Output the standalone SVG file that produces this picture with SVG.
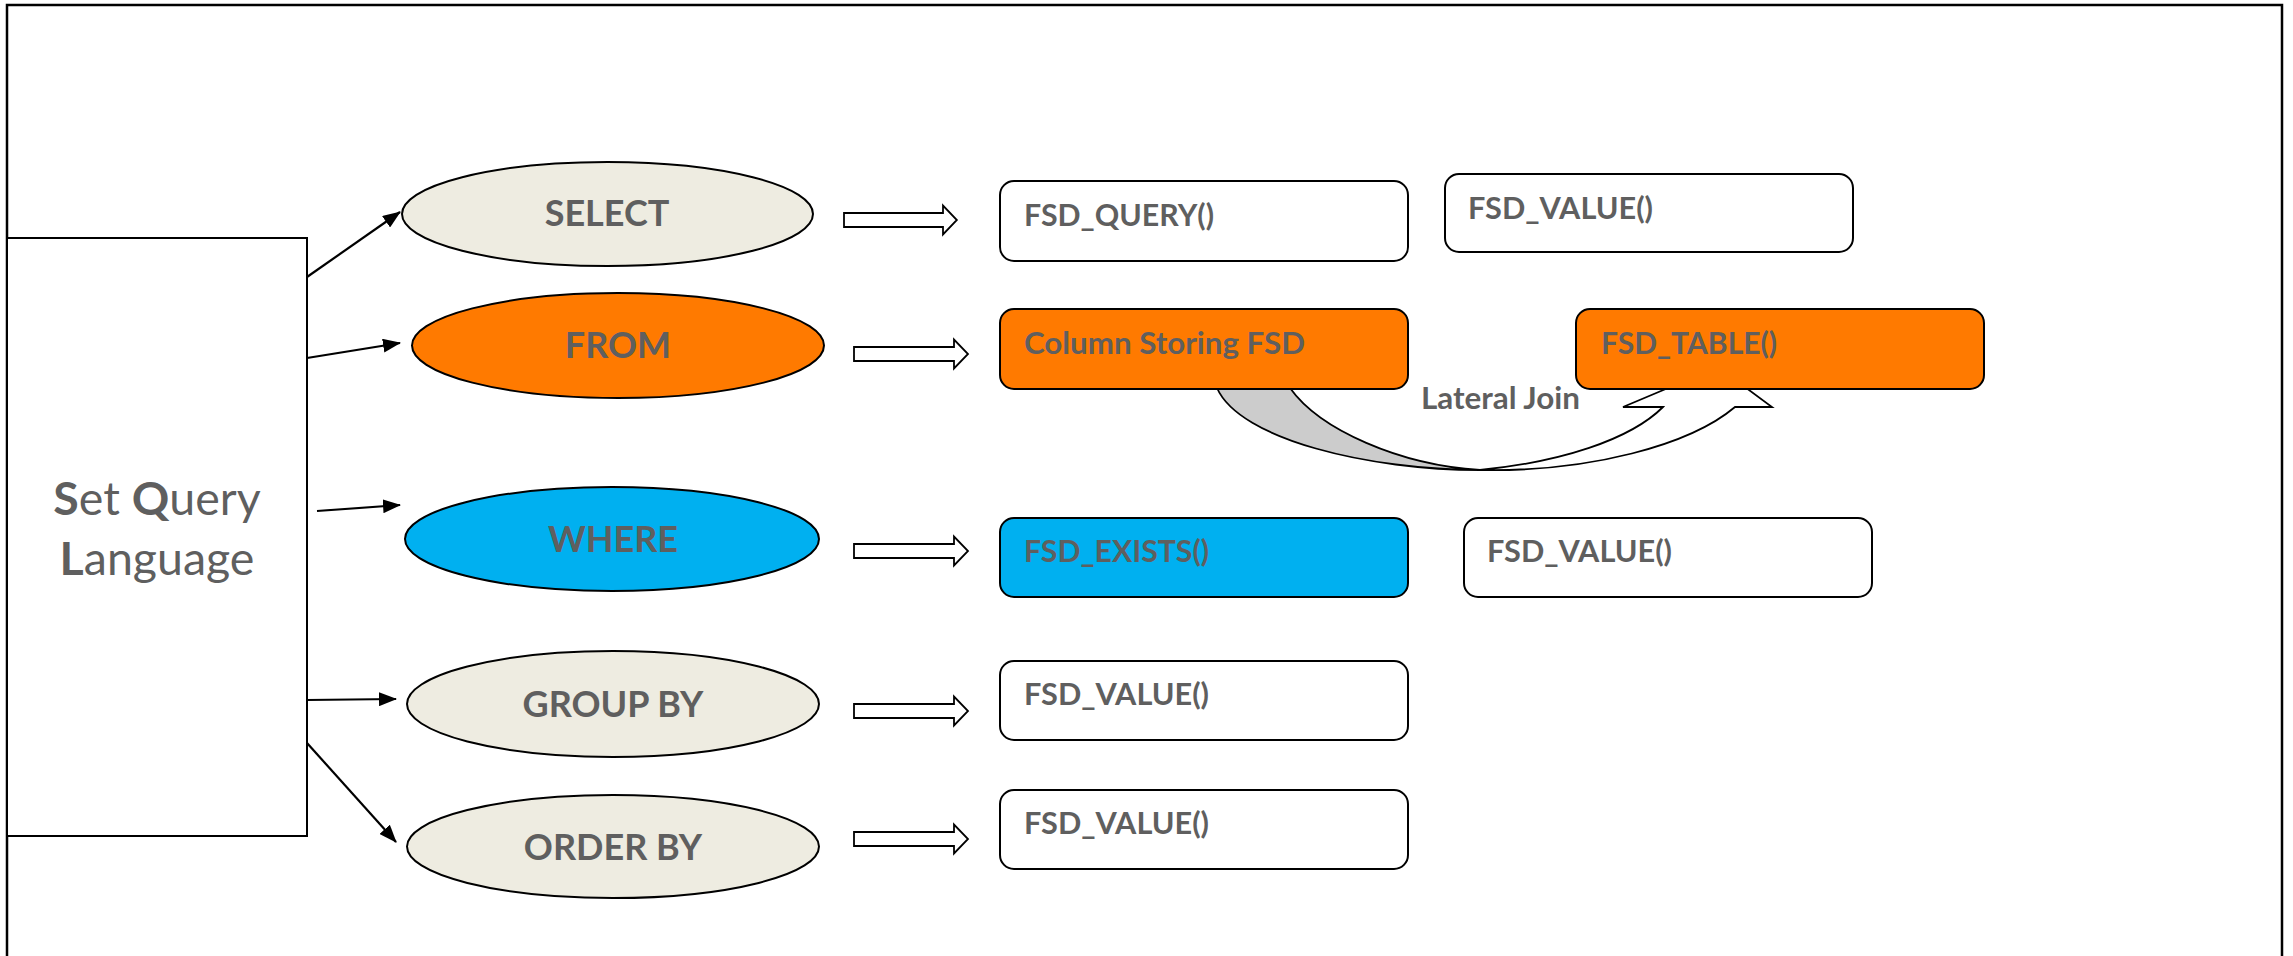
<svg xmlns="http://www.w3.org/2000/svg" width="2293" height="956" viewBox="0 0 2293 956">
  <style>
    .frame { fill: none; stroke: #000; stroke-width: 2.5; }
    .t { font-family: Lato, "Open Sans", "Liberation Sans", sans-serif; fill: #5f5f5f; font-weight: 700; }
    .kw { font-size: 36px; text-anchor: middle; }
    .fn { font-size: 30px; }
    .box { stroke: #000; stroke-width: 2; }
    .ell { stroke: #000; stroke-width: 2; }
    .conn { stroke: #000; stroke-width: 2.2; fill: none; }
    .blk { fill: #fff; stroke: #000; stroke-width: 1.8; }
    .band { stroke: #000; stroke-width: 1.8; stroke-linejoin: miter; }
    .white { fill: #fff; }
    .tan { fill: #eeece1; }
    .orange { fill: #ff7a00; }
    .blue { fill: #00b0f0; }
  </style>
  <defs>
    <marker id="ah" markerUnits="userSpaceOnUse" markerWidth="18" markerHeight="14" refX="17" refY="7" orient="auto">
      <path d="M0,0 L18,7 L0,14 Z" fill="#000"/>
    </marker>
    <path id="blockArrow" d="M0,-7 H100 V-14.5 L114,0 L100,14.5 V7 H0 Z"/>
  </defs>

  <rect x="0" y="0" width="2293" height="956" fill="#fff"/>
  <!-- outer frame, open at the bottom -->
  <path class="frame" d="M7,960 V5 H2282 V960"/>

  <!-- connectors -->
  <g id="connectors">
    <line class="conn" x1="307" y1="277" x2="400" y2="212" marker-end="url(#ah)"/>
    <line class="conn" x1="307" y1="358" x2="400" y2="343" marker-end="url(#ah)"/>
    <line class="conn" x1="317" y1="511" x2="400" y2="505" marker-end="url(#ah)"/>
    <line class="conn" x1="307" y1="700" x2="396" y2="699" marker-end="url(#ah)"/>
    <line class="conn" x1="307" y1="743" x2="396" y2="842" marker-end="url(#ah)"/>

    <use href="#blockArrow" class="blk" transform="translate(844,220) scale(0.99,1)"/>
    <use href="#blockArrow" class="blk" transform="translate(854,354)"/>
    <use href="#blockArrow" class="blk" transform="translate(854,551)"/>
    <use href="#blockArrow" class="blk" transform="translate(854,711)"/>
    <use href="#blockArrow" class="blk" transform="translate(854,839)"/>

    <!-- curved lateral join arrow -->
    <g id="lateral-join">
      <path class="band" fill="#cccccc" d="M1210,370 L1217,388 C1240,440 1370,470 1480,470 C1400,465 1320,430 1290,388 L1282,370 Z"/>
      <path class="band" fill="#fff" d="M1480,470 C1590,472 1690,445 1735,407 L1772,407 L1718,367 L1623,407 L1663,407 C1630,440 1560,462 1480,470 Z"/>
      <text class="t fn" x="1421" y="409" textLength="159" lengthAdjust="spacingAndGlyphs">Lateral Join</text>
    </g>
  </g>

  <!-- source box -->
  <g id="sql">
    <rect class="box white" x="7" y="238" width="300" height="598"/>
    <text class="t" x="157" y="515" font-size="46.5" text-anchor="middle"><tspan font-weight="700">S</tspan><tspan font-weight="400">et </tspan><tspan font-weight="700">Q</tspan><tspan font-weight="400">uery</tspan></text>
    <text class="t" x="157" y="575" font-size="46.5" text-anchor="middle"><tspan font-weight="700">L</tspan><tspan font-weight="400">anguage</tspan></text>
  </g>

  <!-- clauses -->
  <g id="select">
    <ellipse class="ell tan" cx="607.5" cy="214" rx="205.5" ry="52"/>
    <text class="t kw" x="607" y="226">SELECT</text>
  </g>
  <g id="from">
    <ellipse class="ell orange" cx="618" cy="345.5" rx="206" ry="52.5"/>
    <text class="t kw" x="618" y="358">FROM</text>
  </g>
  <g id="where">
    <ellipse class="ell blue" cx="612" cy="539" rx="207" ry="52"/>
    <text class="t kw" x="613" y="552">WHERE</text>
  </g>
  <g id="group-by">
    <ellipse class="ell tan" cx="613" cy="704" rx="206" ry="53"/>
    <text class="t kw" x="613" y="717">GROUP BY</text>
  </g>
  <g id="order-by">
    <ellipse class="ell tan" cx="613" cy="846.5" rx="206" ry="51.5"/>
    <text class="t kw" x="613" y="860">ORDER BY</text>
  </g>

  <!-- functions -->
  <g id="fsd-query">
    <rect class="box white" x="1000" y="181" width="408" height="80" rx="14"/>
    <text class="t fn" x="1024" y="226" textLength="190" lengthAdjust="spacingAndGlyphs">FSD_QUERY()</text>
  </g>
  <g id="fsd-value-select">
    <rect class="box white" x="1445" y="174" width="408" height="78" rx="14"/>
    <text class="t fn" x="1468" y="219" textLength="185" lengthAdjust="spacingAndGlyphs">FSD_VALUE()</text>
  </g>
  <g id="column-storing-fsd">
    <rect class="box orange" x="1000" y="309" width="408" height="80" rx="14"/>
    <text class="t fn" x="1024" y="354" textLength="281" lengthAdjust="spacingAndGlyphs">Column Storing FSD</text>
  </g>
  <g id="fsd-table">
    <rect class="box orange" x="1576" y="309" width="408" height="80" rx="14"/>
    <text class="t fn" x="1601" y="354" textLength="176" lengthAdjust="spacingAndGlyphs">FSD_TABLE()</text>
  </g>
  <g id="fsd-exists">
    <rect class="box blue" x="1000" y="518" width="408" height="79" rx="14"/>
    <text class="t fn" x="1024" y="562" textLength="185" lengthAdjust="spacingAndGlyphs">FSD_EXISTS()</text>
  </g>
  <g id="fsd-value-where">
    <rect class="box white" x="1464" y="518" width="408" height="79" rx="14"/>
    <text class="t fn" x="1487" y="562" textLength="185" lengthAdjust="spacingAndGlyphs">FSD_VALUE()</text>
  </g>
  <g id="fsd-value-group">
    <rect class="box white" x="1000" y="661" width="408" height="79" rx="14"/>
    <text class="t fn" x="1024" y="705" textLength="185" lengthAdjust="spacingAndGlyphs">FSD_VALUE()</text>
  </g>
  <g id="fsd-value-order">
    <rect class="box white" x="1000" y="790" width="408" height="79" rx="14"/>
    <text class="t fn" x="1024" y="834" textLength="185" lengthAdjust="spacingAndGlyphs">FSD_VALUE()</text>
  </g>
</svg>
